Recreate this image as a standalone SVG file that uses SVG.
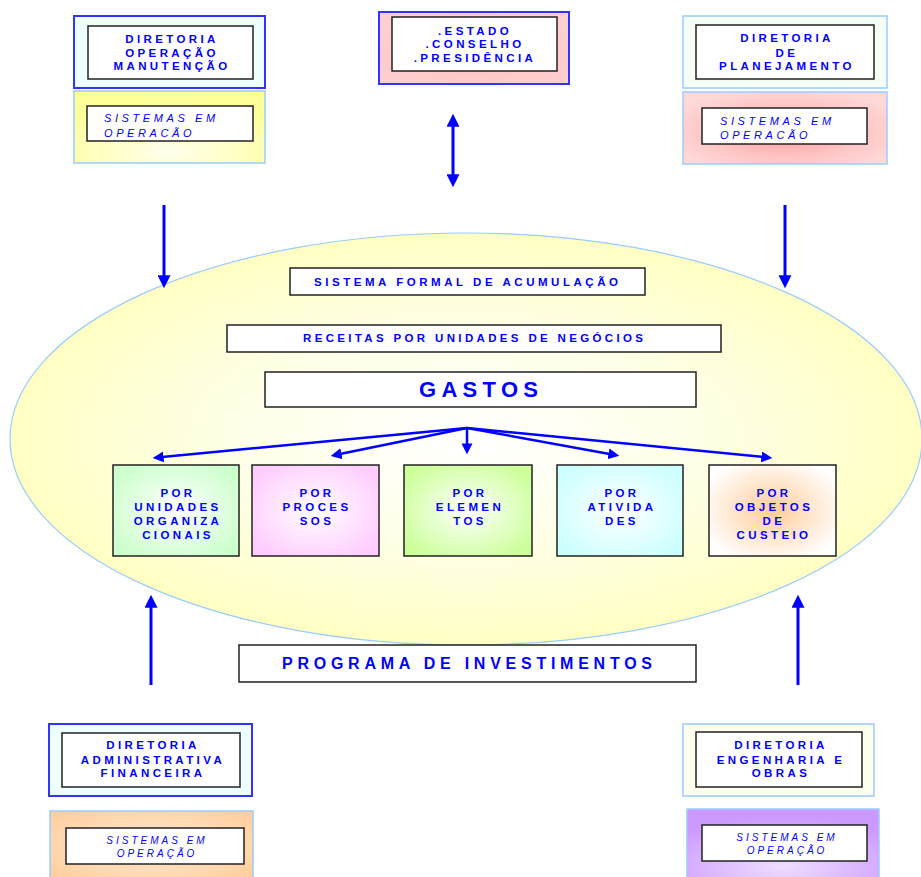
<svg xmlns="http://www.w3.org/2000/svg" width="921" height="877" viewBox="0 0 921 877">
<defs>
<style>
.t{font-family:"Liberation Sans",Arial,sans-serif;font-weight:bold;font-size:11.5px;fill:#0000ff;letter-spacing:3.4px;text-anchor:middle}
.it{font-family:"Liberation Sans",Arial,sans-serif;font-style:italic;font-size:11px;fill:#0000ff;letter-spacing:3.6px}
.itc{font-family:"Liberation Sans",Arial,sans-serif;font-style:italic;font-size:10px;fill:#0000ff;letter-spacing:3px;text-anchor:middle}
.w{fill:#ffffff;stroke:#222222;stroke-width:1.5}
.k{stroke:#222222;stroke-width:1.5}
.ob{stroke:#3333ff;stroke-width:2}
.ol{stroke:#99ccff;stroke-width:1.5}
.a{stroke:#0000ff;stroke-width:3;fill:none}
.af{stroke:#0000ff;stroke-width:2.5;fill:none}
</style>
<marker id="ah" viewBox="0 0 10 10" refX="6" refY="5" markerWidth="13" markerHeight="13" markerUnits="userSpaceOnUse" orient="auto-start-reverse"><path d="M0,0 L10,5 L0,10 z" fill="#0000ff"/></marker>
<marker id="ah2" viewBox="0 0 10 10" refX="6" refY="5" markerWidth="11" markerHeight="11" markerUnits="userSpaceOnUse" orient="auto"><path d="M0,0 L10,5 L0,10 z" fill="#0000ff"/></marker>
<radialGradient id="gEll" cx="0.5" cy="0.5" r="0.5"><stop offset="0" stop-color="#ffffff"/><stop offset="0.5" stop-color="#ffffe8"/><stop offset="1" stop-color="#ffffc4"/></radialGradient>
<radialGradient id="gYel" cx="0.5" cy="0.85" r="0.7"><stop offset="0" stop-color="#ffffee"/><stop offset="1" stop-color="#ffff99"/></radialGradient>
<radialGradient id="gPinkC" cx="0.5" cy="0.6" r="0.7"><stop offset="0" stop-color="#ffc4c4"/><stop offset="1" stop-color="#ffd0d0"/></radialGradient>
<radialGradient id="gPinkR" cx="0.5" cy="0.55" r="0.6"><stop offset="0" stop-color="#ff9999"/><stop offset="0.6" stop-color="#ffc4c4"/><stop offset="1" stop-color="#ffd8d8"/></radialGradient>
<radialGradient id="gOr" cx="0.5" cy="0.5" r="0.7"><stop offset="0" stop-color="#ffebd6"/><stop offset="1" stop-color="#ffcc99"/></radialGradient>
<radialGradient id="gPu" cx="0.5" cy="0.8" r="0.7"><stop offset="0" stop-color="#eeddff"/><stop offset="1" stop-color="#cc99ff"/></radialGradient>
<radialGradient id="gB1" cx="0.5" cy="0.5" r="0.6"><stop offset="0" stop-color="#ffffff"/><stop offset="1" stop-color="#ccffcc"/></radialGradient>
<radialGradient id="gB2" cx="0.5" cy="0.5" r="0.6"><stop offset="0" stop-color="#ffffff"/><stop offset="1" stop-color="#ffccff"/></radialGradient>
<radialGradient id="gB3" cx="0.5" cy="0.5" r="0.6"><stop offset="0" stop-color="#ffffff"/><stop offset="1" stop-color="#ccff99"/></radialGradient>
<radialGradient id="gB4" cx="0.5" cy="0.5" r="0.6"><stop offset="0" stop-color="#ffffff"/><stop offset="1" stop-color="#ccffff"/></radialGradient>
<radialGradient id="gB5" cx="0.5" cy="0.5" r="0.6"><stop offset="0" stop-color="#ffcc99"/><stop offset="1" stop-color="#ffffff"/></radialGradient>
</defs>
<rect width="921" height="877" fill="#ffffff"/>

<g id="ellipse">
<ellipse cx="466" cy="439" rx="456" ry="206" fill="url(#gEll)" stroke="#99ccff" stroke-width="1.2"/>
</g>

<g id="dir-operacao">
<rect x="74" y="16" width="191" height="72" fill="#eeffff" class="ob"/>
<rect x="88" y="26" width="165" height="53" class="w"/>
<text class="t" x="172" y="43">DIRETORIA</text>
<text class="t" x="172" y="57">OPERAÇÃO</text>
<text class="t" x="172" y="70">MANUTENÇÃO</text>
</g>
<g id="sis-operacao">
<rect x="74" y="91" width="191" height="72" fill="url(#gYel)" class="ol"/>
<rect x="87" y="106" width="166" height="35" class="w"/>
<text class="it" x="104" y="122">SISTEMAS EM</text>
<text class="it" x="104" y="137">OPERACÃO</text>
</g>

<g id="estado">
<rect x="379" y="12" width="190" height="72" fill="url(#gPinkC)" class="ob"/>
<rect x="392" y="17" width="165" height="54" class="w"/>
<text class="t" x="475" y="35">.ESTADO</text>
<text class="t" x="475" y="48">.CONSELHO</text>
<text class="t" x="475" y="62">.PRESIDÊNCIA</text>
</g>

<g id="dir-planejamento">
<rect x="683" y="16" width="204" height="72" fill="#f5fff5" class="ol"/>
<rect x="696" y="25" width="178" height="54" class="w"/>
<text class="t" x="787" y="42">DIRETORIA</text>
<text class="t" x="787" y="57">DE</text>
<text class="t" x="787" y="70">PLANEJAMENTO</text>
</g>
<g id="sis-planejamento">
<rect x="683" y="92" width="204" height="72" fill="url(#gPinkR)" class="ol"/>
<rect x="702" y="108" width="165" height="36" class="w"/>
<text class="it" x="720" y="125">SISTEMAS EM</text>
<text class="it" x="720" y="139">OPERACÃO</text>
</g>

<g id="sistema-formal">
<rect x="290" y="268" width="355" height="27" class="w"/>
<text class="t" x="314" y="286" style="text-anchor:start;letter-spacing:0" textLength="304" lengthAdjust="spacing">SISTEMA FORMAL DE ACUMULAÇÃO</text>
</g>
<g id="receitas">
<rect x="227" y="325" width="494" height="27" class="w"/>
<text class="t" x="303" y="342" style="text-anchor:start;letter-spacing:0" textLength="340" lengthAdjust="spacing">RECEITAS POR UNIDADES DE NEGÓCIOS</text>
</g>
<g id="gastos">
<rect x="265" y="372" width="431" height="35" class="w"/>
<text class="t" x="419" y="397" style="text-anchor:start;letter-spacing:0;font-size:22px" textLength="119" lengthAdjust="spacing">GASTOS</text>
</g>

<g id="por-unidades">
<rect x="113" y="465" width="126" height="91" fill="url(#gB1)" class="k"/>
<text class="t" x="178" y="497">POR</text>
<text class="t" x="178" y="511">UNIDADES</text>
<text class="t" x="178" y="525">ORGANIZA</text>
<text class="t" x="178" y="539">CIONAIS</text>
</g>
<g id="por-processos">
<rect x="252" y="465" width="127" height="91" fill="url(#gB2)" class="k"/>
<text class="t" x="317" y="497">POR</text>
<text class="t" x="317" y="511">PROCES</text>
<text class="t" x="317" y="525">SOS</text>
</g>
<g id="por-elementos">
<rect x="404" y="465" width="128" height="91" fill="url(#gB3)" class="k"/>
<text class="t" x="470" y="497">POR</text>
<text class="t" x="470" y="511">ELEMEN</text>
<text class="t" x="470" y="525">TOS</text>
</g>
<g id="por-atividades">
<rect x="557" y="465" width="126" height="91" fill="url(#gB4)" class="k"/>
<text class="t" x="622" y="497">POR</text>
<text class="t" x="622" y="511">ATIVIDA</text>
<text class="t" x="622" y="525">DES</text>
</g>
<g id="por-objetos">
<rect x="709" y="465" width="127" height="91" fill="url(#gB5)" class="k"/>
<text class="t" x="774" y="497">POR</text>
<text class="t" x="774" y="511">OBJETOS</text>
<text class="t" x="774" y="525">DE</text>
<text class="t" x="774" y="539">CUSTEIO</text>
</g>

<g id="programa">
<rect x="239" y="645" width="457" height="37" class="w"/>
<text class="t" x="282" y="669" style="text-anchor:start;letter-spacing:0;font-size:16px" textLength="370" lengthAdjust="spacing">PROGRAMA DE INVESTIMENTOS</text>
</g>

<g id="dir-administrativa">
<rect x="49" y="724" width="203" height="72" fill="#eeffff" class="ob"/>
<rect x="62" y="733" width="178" height="54" class="w"/>
<text class="t" x="153" y="749">DIRETORIA</text>
<text class="t" x="153" y="764">ADMINISTRATIVA</text>
<text class="t" x="153" y="777">FINANCEIRA</text>
</g>
<g id="sis-administrativa">
<rect x="50" y="811" width="203" height="70" fill="url(#gOr)" class="ol"/>
<rect x="66" y="828" width="178" height="36" class="w"/>
<text class="itc" x="157" y="844">SISTEMAS EM</text>
<text class="itc" x="157" y="857">OPERAÇÃO</text>
</g>

<g id="dir-engenharia">
<rect x="683" y="724" width="191" height="72" fill="#ffffee" class="ol"/>
<rect x="696" y="732" width="166" height="55" class="w"/>
<text class="t" x="781" y="749">DIRETORIA</text>
<text class="t" x="781" y="764">ENGENHARIA E</text>
<text class="t" x="781" y="777">OBRAS</text>
</g>
<g id="sis-engenharia">
<rect x="687" y="809" width="192" height="72" fill="url(#gPu)" class="ol"/>
<rect x="702" y="825" width="165" height="36" class="w"/>
<text class="itc" x="787" y="841">SISTEMAS EM</text>
<text class="itc" x="787" y="854">OPERAÇÃO</text>
</g>

<g id="connectors">
<line class="a" x1="453" y1="119" x2="453" y2="182" marker-start="url(#ah)" marker-end="url(#ah)"/>
<line class="a" x1="164" y1="205" x2="164" y2="283" marker-end="url(#ah)"/>
<line class="a" x1="785" y1="205" x2="785" y2="283" marker-end="url(#ah)"/>
<line class="a" x1="151" y1="685" x2="151" y2="600" marker-end="url(#ah)"/>
<line class="a" x1="798" y1="685" x2="798" y2="600" marker-end="url(#ah)"/>
<line class="af" x1="467" y1="428" x2="157" y2="457.5" marker-end="url(#ah2)"/>
<line class="af" x1="467" y1="428" x2="335" y2="455" marker-end="url(#ah2)"/>
<line class="af" x1="467" y1="428" x2="467" y2="450" marker-end="url(#ah2)"/>
<line class="af" x1="467" y1="428" x2="615" y2="455" marker-end="url(#ah2)"/>
<line class="af" x1="467" y1="428" x2="768" y2="457.5" marker-end="url(#ah2)"/>
</g>
</svg>
